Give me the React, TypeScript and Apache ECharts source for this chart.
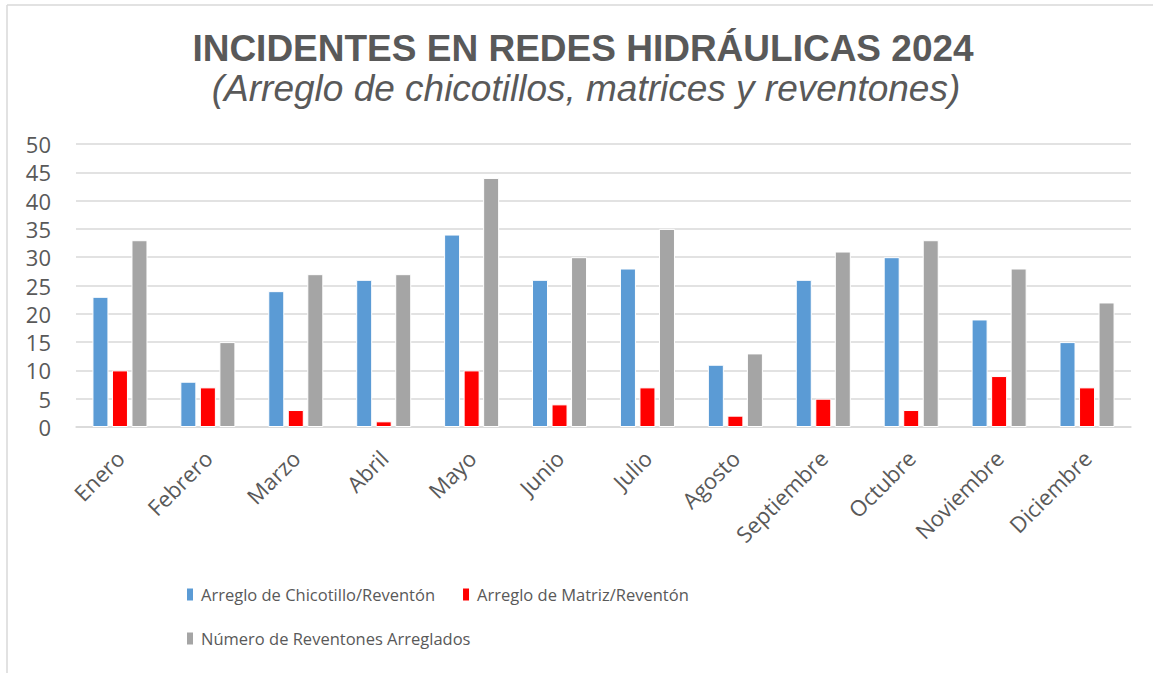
import React, { useEffect, useRef } from "react";
import * as echarts from "echarts";

const categories = ["Enero", "Febrero", "Marzo", "Abril", "Mayo", "Junio", "Julio", "Agosto", "Septiembre", "Octubre", "Noviembre", "Diciembre"];
const chicotillo = [23, 8, 24, 26, 34, 26, 28, 11, 26, 30, 19, 15];
const matriz = [10, 7, 3, 1, 10, 4, 7, 2, 5, 3, 9, 7];
const reventones = [33, 15, 27, 27, 44, 30, 35, 13, 31, 33, 28, 22];
const seriesNames = ["Arreglo de Chicotillo/Reventón", "Arreglo de Matriz/Reventón", "Número de Reventones Arreglados"];
const colors = ["#5B9BD5", "#FF0000", "#A5A5A5"];

const FONT = "'Open Sans', 'Noto Sans', sans-serif";
const LEGEND_FONT = "'Open Sans', 'Noto Sans', sans-serif";
const GREY = "#595959";

export default function App() {
  const ref = useRef<HTMLDivElement>(null);
  useEffect(() => {
    document.body.style.margin = "0";
    const chart = echarts.init(ref.current!, undefined, { renderer: "svg" });
    const data = [chicotillo, matriz, reventones];
    chart.setOption({
      animation: false,
      backgroundColor: "#fff",
      title: [
        {
          text: "INCIDENTES EN REDES HIDRÁULICAS 2024",
          left: 578,
          textAlign: "center",
          top: 25,
          textStyle: { fontFamily: "'Liberation Sans', Arial, sans-serif", fontWeight: "bold", fontSize: 37, color: GREY },
        },
        {
          text: "(Arreglo de chicotillos, matrices y reventones)",
          left: 581,
          textAlign: "center",
          top: 65,
          textStyle: { fontFamily: "'Liberation Sans', Arial, sans-serif", fontStyle: "italic", fontWeight: "normal", fontSize: 37, color: GREY },
        },
      ],
      legend: [
        {
          data: [seriesNames[0], seriesNames[1]],
          left: 180,
          top: 581,
          itemWidth: 8,
          itemHeight: 14,
          itemGap: 26,
          icon: "rect",
          textStyle: { fontFamily: LEGEND_FONT, fontSize: 16.5, color: GREY, padding: [0, 0, 0, 2] },
        },
        {
          data: [seriesNames[2]],
          left: 180,
          top: 625,
          itemWidth: 8,
          itemHeight: 14,
          icon: "rect",
          textStyle: { fontFamily: LEGEND_FONT, fontSize: 16.5, color: GREY, padding: [0, 0, 0, 2] },
        },
      ],
      grid: { left: 76, right: 22, top: 144, bottom: 246, containLabel: false },
      xAxis: {
        type: "category",
        data: categories,
        axisLine: { lineStyle: { color: "#D9D9D9", width: 1.5 } },
        axisTick: { show: false },
        axisLabel: { rotate: 45, fontFamily: FONT, fontSize: 22, color: GREY, margin: 27, interval: 0 },
      },
      yAxis: {
        type: "value",
        min: 0,
        max: 50,
        interval: 5,
        axisLine: { show: false },
        axisTick: { show: false },
        axisLabel: { fontFamily: FONT, fontSize: 22, lineHeight: 24, color: GREY, margin: 25 },
        splitLine: { lineStyle: { color: "#D9D9D9", width: 1.5 } },
      },
      series: seriesNames.map((name, i) => ({
        name,
        type: "bar",
        data: data[i],
        barWidth: 16,
        barGap: "22%",
        itemStyle: { color: colors[i], borderColor: "#fff", borderWidth: 1 },
      })),
      graphic: [
        { type: "line", shape: { x1: 7, y1: 5, x2: 1153, y2: 5 }, style: { stroke: "#D9D9D9", lineWidth: 1.5 } },
        { type: "line", shape: { x1: 7, y1: 5, x2: 7, y2: 673 }, style: { stroke: "#D9D9D9", lineWidth: 1.5 } },
      ],
    });
    return () => chart.dispose();
  }, []);
  return <div ref={ref} style={{ width: 1153, height: 673 }} />;
}
